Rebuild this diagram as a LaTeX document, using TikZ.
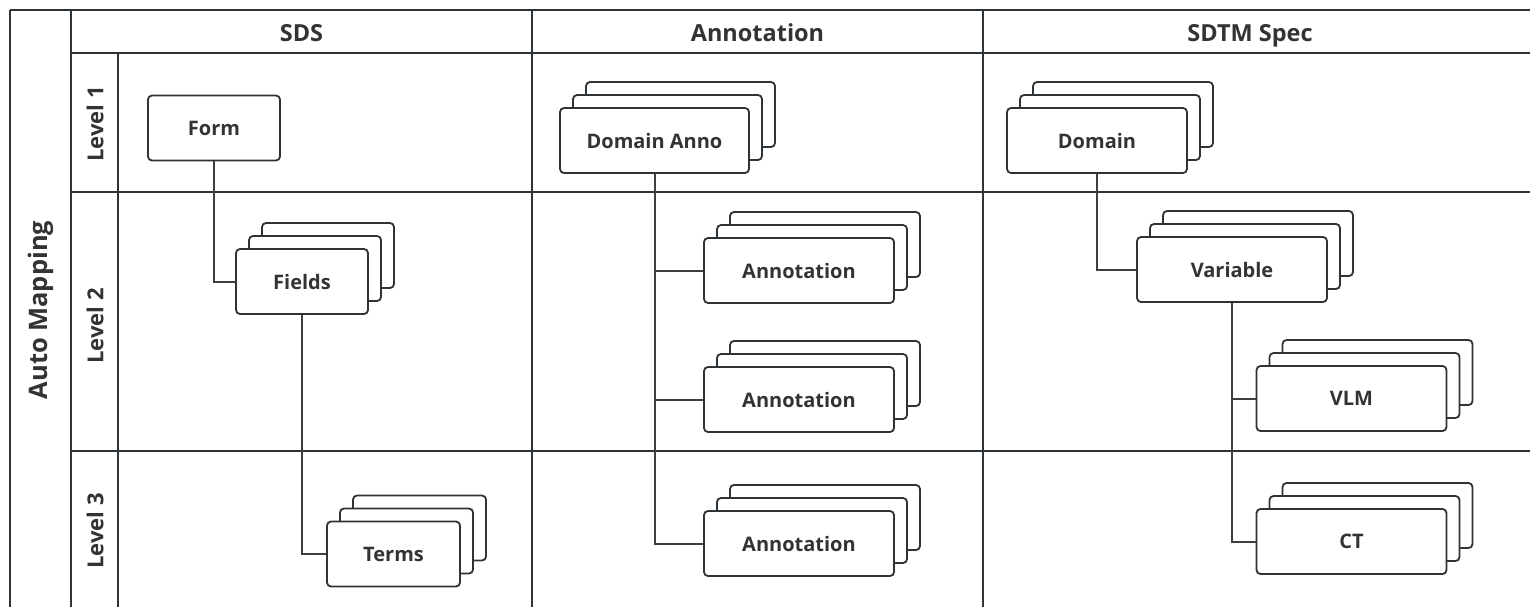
\documentclass[tikz,border=0pt]{standalone}
\usepackage{fontspec}
\setmainfont{Open Sans}
\usetikzlibrary{
  calc,
  positioning,
  shadows
}
\definecolor{gridgray}{RGB}{46,51,56}
\definecolor{textgray}{RGB}{51,51,51}
\definecolor{linkgray}{RGB}{60,62,64}

\tikzset{
  grid/.style={draw=gridgray, line width=2.2pt},
  link/.style={draw=linkgray, line width=2pt},
  cardbox/.style={rectangle, rounded corners=4pt, draw=gridgray, line width=1.8pt,
    fill=white, text=textgray, font=\fontsize{20}{24}\selectfont\bfseries,
    minimum width=190pt, minimum height=65pt, inner sep=0pt},
  cardstack/.style={cardbox,
    copy shadow={shadow xshift=26pt, shadow yshift=26pt, draw=gridgray, fill=white},
    copy shadow={shadow xshift=13pt, shadow yshift=13pt, draw=gridgray, fill=white}},
  headlabel/.style={text=textgray, anchor=base, inner sep=0pt,
    font=\fontsize{23.5}{28}\selectfont\bfseries},
  levellabel/.style={text=textgray, rotate=90, font=\fontsize{22}{26}\selectfont\bfseries}
}

\begin{document}
\begin{tikzpicture}[x=1pt, y=-1pt]
  \clip (0,0) rectangle (1530,606);

  % Table frame
  \draw[grid] (10,10) -- (1540,10);
  \draw[grid] (71,53) -- (1540,53);
  \draw[grid] (71,192) -- (1540,192);
  \draw[grid] (71,451) -- (1540,451);
  \foreach \x in {10,71,532,983} {
    \draw[grid] (\x,10) -- (\x,620);
  }
  \draw[grid] (118,53) -- (118,620);

  % Column headers
  \node[headlabel] (hsds) at (301.5,41.5) {SDS};
  \node[headlabel] (hanno) at (757.5,41.5) {Annotation};
  \node[headlabel] (hspec) at (1250,41.5) {SDTM Spec};

  % Row labels
  \node[levellabel, font=\fontsize{25.5}{30}\selectfont\bfseries] (auto) at (41,310) {Auto Mapping};
  \node[levellabel] (lev1) at (95,124) {Level 1};
  \node[levellabel] (lev2) at (95,326) {Level 2};
  \node[levellabel] (lev3) at (95,531) {Level 3};

  % SDS
  \node[cardbox, minimum width=132pt] (form) at (214,128) {Form};
  \node[cardstack, minimum width=132pt] (fields) at (302,281.5) {Fields};
  \node[cardstack, minimum width=133pt] (terms) at (393.5,554) {Terms};

  % Annotation
  \node[cardstack, minimum width=189pt] (danno) at (654.5,140.5) {Domain Anno};
  \node[cardstack] (anno1) at (799,270.5) {Annotation};
  \node[cardstack] (anno2) at (799,399.5) {Annotation};
  \node[cardstack] (anno3) at (799,543.5) {Annotation};

  % SDTM Spec
  \node[cardstack, minimum width=180pt] (domain) at (1097,140.5) {Domain};
  \node[cardstack] (variable) at (1232,269.5) {Variable};
  \node[cardstack] (vlm) at (1351.5,398.5) {VLM};
  \node[cardstack] (ct) at (1351.5,541.5) {CT};

  % Links
  \draw[link] (form.south) |- (fields.west);
  \draw[link] (fields.south) |- (terms.west);
  \draw[link] (danno.south) |- (anno1.west);
  \draw[link] (danno.south) |- (anno2.west);
  \draw[link] (danno.south) |- (anno3.west);
  \draw[link] (domain.south) |- (variable.west);
  \draw[link] (variable.south) |- (vlm.west);
  \draw[link] (variable.south) |- (ct.west);
\end{tikzpicture}
\end{document}
